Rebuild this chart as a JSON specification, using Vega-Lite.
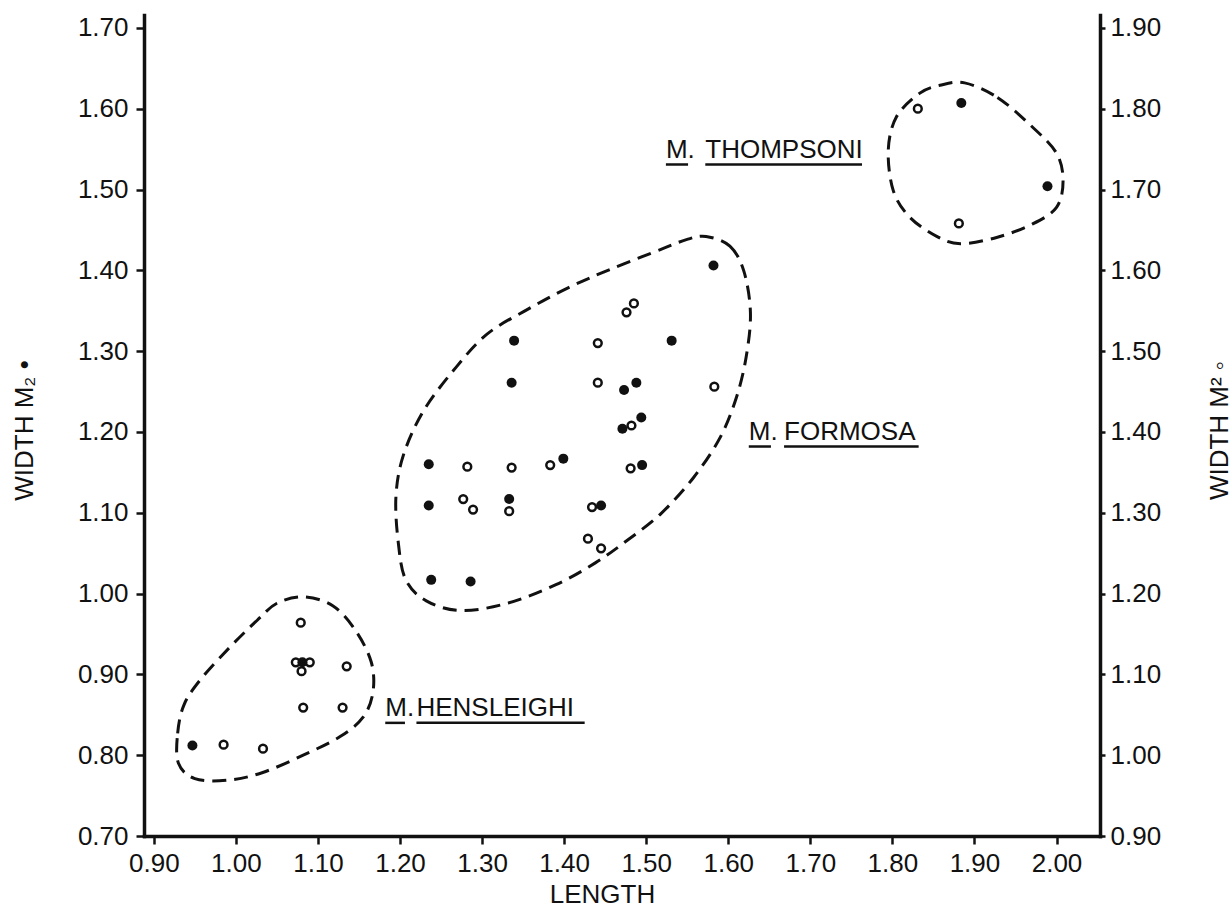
{
  "$schema": "https://vega.github.io/schema/vega-lite/v6.json",
  "width": 956,
  "height": 821,
  "autosize": "none",
  "padding": {"left": 144, "top": 15, "right": 132, "bottom": 74},
  "background": "white",
  "datasets": {
    "lower": [
      {"sp": "M. hensleighi", "len": 0.947, "wid": 0.812},
      {"sp": "M. hensleighi", "len": 1.081, "wid": 0.915},
      {"sp": "M. formosa", "len": 1.582, "wid": 1.406},
      {"sp": "M. formosa", "len": 1.339, "wid": 1.313},
      {"sp": "M. formosa", "len": 1.531, "wid": 1.313},
      {"sp": "M. formosa", "len": 1.336, "wid": 1.261},
      {"sp": "M. formosa", "len": 1.473, "wid": 1.252},
      {"sp": "M. formosa", "len": 1.488, "wid": 1.261},
      {"sp": "M. formosa", "len": 1.471, "wid": 1.204},
      {"sp": "M. formosa", "len": 1.494, "wid": 1.218},
      {"sp": "M. formosa", "len": 1.235, "wid": 1.160},
      {"sp": "M. formosa", "len": 1.399, "wid": 1.167},
      {"sp": "M. formosa", "len": 1.495, "wid": 1.159},
      {"sp": "M. formosa", "len": 1.235, "wid": 1.109},
      {"sp": "M. formosa", "len": 1.333, "wid": 1.117},
      {"sp": "M. formosa", "len": 1.445, "wid": 1.109},
      {"sp": "M. formosa", "len": 1.238, "wid": 1.017},
      {"sp": "M. formosa", "len": 1.286, "wid": 1.015},
      {"sp": "M. thompsoni", "len": 1.884, "wid": 1.607},
      {"sp": "M. thompsoni", "len": 1.989, "wid": 1.504}
    ],
    "upper": [
      {"sp": "M. hensleighi", "len": 0.985, "wid": 1.013},
      {"sp": "M. hensleighi", "len": 1.033, "wid": 1.008},
      {"sp": "M. hensleighi", "len": 1.079, "wid": 1.164},
      {"sp": "M. hensleighi", "len": 1.073, "wid": 1.115},
      {"sp": "M. hensleighi", "len": 1.090, "wid": 1.115},
      {"sp": "M. hensleighi", "len": 1.080, "wid": 1.104},
      {"sp": "M. hensleighi", "len": 1.135, "wid": 1.110},
      {"sp": "M. hensleighi", "len": 1.082, "wid": 1.059},
      {"sp": "M. hensleighi", "len": 1.130, "wid": 1.059},
      {"sp": "M. formosa", "len": 1.485, "wid": 1.559},
      {"sp": "M. formosa", "len": 1.476, "wid": 1.548},
      {"sp": "M. formosa", "len": 1.441, "wid": 1.510},
      {"sp": "M. formosa", "len": 1.441, "wid": 1.461},
      {"sp": "M. formosa", "len": 1.583, "wid": 1.456},
      {"sp": "M. formosa", "len": 1.482, "wid": 1.408},
      {"sp": "M. formosa", "len": 1.282, "wid": 1.357},
      {"sp": "M. formosa", "len": 1.336, "wid": 1.356},
      {"sp": "M. formosa", "len": 1.383, "wid": 1.359},
      {"sp": "M. formosa", "len": 1.481, "wid": 1.355},
      {"sp": "M. formosa", "len": 1.277, "wid": 1.317},
      {"sp": "M. formosa", "len": 1.289, "wid": 1.304},
      {"sp": "M. formosa", "len": 1.333, "wid": 1.302},
      {"sp": "M. formosa", "len": 1.434, "wid": 1.307},
      {"sp": "M. formosa", "len": 1.429, "wid": 1.268},
      {"sp": "M. formosa", "len": 1.445, "wid": 1.256},
      {"sp": "M. thompsoni", "len": 1.831, "wid": 1.800},
      {"sp": "M. thompsoni", "len": 1.881, "wid": 1.658}
    ],
    "outline": [
      {"sp": "H", "o": 1, "len": 0.930, "wid": 0.790},
      {"sp": "H", "o": 2, "len": 0.929, "wid": 0.827},
      {"sp": "H", "o": 3, "len": 0.937, "wid": 0.863},
      {"sp": "H", "o": 4, "len": 0.958, "wid": 0.895},
      {"sp": "H", "o": 5, "len": 0.992, "wid": 0.933},
      {"sp": "H", "o": 6, "len": 1.026, "wid": 0.967},
      {"sp": "H", "o": 7, "len": 1.050, "wid": 0.988},
      {"sp": "H", "o": 8, "len": 1.082, "wid": 0.996},
      {"sp": "H", "o": 9, "len": 1.118, "wid": 0.985},
      {"sp": "H", "o": 10, "len": 1.146, "wid": 0.954},
      {"sp": "H", "o": 11, "len": 1.165, "wid": 0.915},
      {"sp": "H", "o": 12, "len": 1.167, "wid": 0.878},
      {"sp": "H", "o": 13, "len": 1.155, "wid": 0.847},
      {"sp": "H", "o": 14, "len": 1.127, "wid": 0.823},
      {"sp": "H", "o": 15, "len": 1.082, "wid": 0.800},
      {"sp": "H", "o": 16, "len": 1.031, "wid": 0.778},
      {"sp": "H", "o": 17, "len": 0.989, "wid": 0.769},
      {"sp": "H", "o": 18, "len": 0.950, "wid": 0.771},
      {"sp": "F", "o": 1, "len": 1.573, "wid": 1.442},
      {"sp": "F", "o": 2, "len": 1.602, "wid": 1.430},
      {"sp": "F", "o": 3, "len": 1.619, "wid": 1.399},
      {"sp": "F", "o": 4, "len": 1.627, "wid": 1.348},
      {"sp": "F", "o": 5, "len": 1.622, "wid": 1.294},
      {"sp": "F", "o": 6, "len": 1.610, "wid": 1.243},
      {"sp": "F", "o": 7, "len": 1.590, "wid": 1.193},
      {"sp": "F", "o": 8, "len": 1.558, "wid": 1.144},
      {"sp": "F", "o": 9, "len": 1.518, "wid": 1.099},
      {"sp": "F", "o": 10, "len": 1.477, "wid": 1.066},
      {"sp": "F", "o": 11, "len": 1.438, "wid": 1.038},
      {"sp": "F", "o": 12, "len": 1.390, "wid": 1.011},
      {"sp": "F", "o": 13, "len": 1.331, "wid": 0.988},
      {"sp": "F", "o": 14, "len": 1.274, "wid": 0.979},
      {"sp": "F", "o": 15, "len": 1.232, "wid": 0.991},
      {"sp": "F", "o": 16, "len": 1.207, "wid": 1.017},
      {"sp": "F", "o": 17, "len": 1.198, "wid": 1.062},
      {"sp": "F", "o": 18, "len": 1.195, "wid": 1.120},
      {"sp": "F", "o": 19, "len": 1.204, "wid": 1.171},
      {"sp": "F", "o": 20, "len": 1.228, "wid": 1.225},
      {"sp": "F", "o": 21, "len": 1.265, "wid": 1.276},
      {"sp": "F", "o": 22, "len": 1.306, "wid": 1.321},
      {"sp": "F", "o": 23, "len": 1.356, "wid": 1.352},
      {"sp": "F", "o": 24, "len": 1.406, "wid": 1.379},
      {"sp": "F", "o": 25, "len": 1.458, "wid": 1.402},
      {"sp": "F", "o": 26, "len": 1.518, "wid": 1.426},
      {"sp": "F", "o": 27, "len": 1.549, "wid": 1.438},
      {"sp": "T", "o": 1, "len": 1.888, "wid": 1.632},
      {"sp": "T", "o": 2, "len": 1.928, "wid": 1.614},
      {"sp": "T", "o": 3, "len": 1.970, "wid": 1.578},
      {"sp": "T", "o": 4, "len": 2.000, "wid": 1.545},
      {"sp": "T", "o": 5, "len": 2.008, "wid": 1.511},
      {"sp": "T", "o": 6, "len": 2.000, "wid": 1.478},
      {"sp": "T", "o": 7, "len": 1.970, "wid": 1.457},
      {"sp": "T", "o": 8, "len": 1.928, "wid": 1.441},
      {"sp": "T", "o": 9, "len": 1.883, "wid": 1.433},
      {"sp": "T", "o": 10, "len": 1.854, "wid": 1.442},
      {"sp": "T", "o": 11, "len": 1.821, "wid": 1.466},
      {"sp": "T", "o": 12, "len": 1.801, "wid": 1.499},
      {"sp": "T", "o": 13, "len": 1.795, "wid": 1.549},
      {"sp": "T", "o": 14, "len": 1.805, "wid": 1.590},
      {"sp": "T", "o": 15, "len": 1.833, "wid": 1.619},
      {"sp": "T", "o": 16, "len": 1.858, "wid": 1.629}
    ],
    "labels": [
      {"t": "M.", "len": 1.524, "wid": 1.549},
      {"t": "THOMPSONI", "len": 1.572, "wid": 1.549},
      {"t": "M.", "len": 1.625, "wid": 1.200},
      {"t": "FORMOSA", "len": 1.668, "wid": 1.200},
      {"t": "M.", "len": 1.182, "wid": 0.859},
      {"t": "HENSLEIGHI", "len": 1.220, "wid": 0.859}
    ],
    "underlines": [
      {"len": 1.524, "len2": 1.551, "wid": 1.531},
      {"len": 1.572, "len2": 1.763, "wid": 1.531},
      {"len": 1.625, "len2": 1.652, "wid": 1.182},
      {"len": 1.668, "len2": 1.832, "wid": 1.182},
      {"len": 1.182, "len2": 1.206, "wid": 0.840},
      {"len": 1.220, "len2": 1.425, "wid": 0.840}
    ]
  },
  "layer": [
    {
      "data": {"name": "outline"},
      "mark": {"type": "line", "interpolate": "cardinal-closed", "color": "#111", "strokeWidth": 3, "strokeDash": [14, 8], "clip": false},
      "encoding": {
        "x": {"field": "len", "type": "quantitative", "scale": {"domain": [0.888, 2.053], "nice": false, "zero": false},
          "axis": {"title": "LENGTH", "values": [0.9, 1.0, 1.1, 1.2, 1.3, 1.4, 1.5, 1.6, 1.7, 1.8, 1.9, 2.0], "format": ".2f", "titleX": 458, "titleY": 66, "titleBaseline": "alphabetic", "titleAlign": "center"}},
        "y": {"field": "wid", "type": "quantitative", "scale": {"domain": [0.70, 1.716], "nice": false, "zero": false}, "axis": null},
        "detail": {"field": "sp"},
        "order": {"field": "o", "type": "quantitative"}
      }
    },
    {
      "data": {"name": "lower"},
      "mark": {"type": "point", "shape": "circle", "filled": true, "color": "#111", "size": 100, "opacity": 1},
      "encoding": {
        "x": {"field": "len", "type": "quantitative", "scale": {"domain": [0.888, 2.053], "nice": false, "zero": false},
          "axis": {"title": "LENGTH", "values": [0.9, 1.0, 1.1, 1.2, 1.3, 1.4, 1.5, 1.6, 1.7, 1.8, 1.9, 2.0], "format": ".2f", "titleX": 458, "titleY": 66, "titleBaseline": "alphabetic", "titleAlign": "center"}},
        "y": {"field": "wid", "type": "quantitative", "scale": {"domain": [0.70, 1.716], "nice": false, "zero": false},
          "axis": {"orient": "left", "title": "WIDTH M₂ •", "values": [0.7, 0.8, 0.9, 1.0, 1.1, 1.2, 1.3, 1.4, 1.5, 1.6, 1.7], "format": ".2f", "titleX": -112, "titleY": 415, "titleBaseline": "alphabetic", "titleAlign": "center", "titleAngle": 270}}
      }
    },
    {
      "data": {"name": "labels"},
      "mark": {"type": "text", "align": "left", "baseline": "middle", "font": "Liberation Sans", "fontSize": 26, "color": "#111"},
      "encoding": {
        "x": {"field": "len", "type": "quantitative", "scale": {"domain": [0.888, 2.053], "nice": false, "zero": false},
          "axis": {"title": "LENGTH", "values": [0.9, 1.0, 1.1, 1.2, 1.3, 1.4, 1.5, 1.6, 1.7, 1.8, 1.9, 2.0], "format": ".2f", "titleX": 458, "titleY": 66, "titleBaseline": "alphabetic", "titleAlign": "center"}},
        "y": {"field": "wid", "type": "quantitative", "scale": {"domain": [0.70, 1.716], "nice": false, "zero": false}, "axis": null},
        "text": {"field": "t"}
      }
    },
    {
      "data": {"name": "underlines"},
      "mark": {"type": "rule", "color": "#111", "strokeWidth": 2.5},
      "encoding": {
        "x": {"field": "len", "type": "quantitative", "scale": {"domain": [0.888, 2.053], "nice": false, "zero": false},
          "axis": {"title": "LENGTH", "values": [0.9, 1.0, 1.1, 1.2, 1.3, 1.4, 1.5, 1.6, 1.7, 1.8, 1.9, 2.0], "format": ".2f", "titleX": 458, "titleY": 66, "titleBaseline": "alphabetic", "titleAlign": "center"}},
        "x2": {"field": "len2"},
        "y": {"field": "wid", "type": "quantitative", "scale": {"domain": [0.70, 1.716], "nice": false, "zero": false}, "axis": null}
      }
    },
    {
      "data": {"name": "upper"},
      "mark": {"type": "point", "shape": "circle", "filled": false, "color": "#111", "size": 60, "strokeWidth": 2.5, "opacity": 1},
      "encoding": {
        "x": {"field": "len", "type": "quantitative", "scale": {"domain": [0.888, 2.053], "nice": false, "zero": false},
          "axis": {"title": "LENGTH", "values": [0.9, 1.0, 1.1, 1.2, 1.3, 1.4, 1.5, 1.6, 1.7, 1.8, 1.9, 2.0], "format": ".2f", "titleX": 458, "titleY": 66, "titleBaseline": "alphabetic", "titleAlign": "center"}},
        "y": {"field": "wid", "type": "quantitative", "scale": {"domain": [0.90, 1.916], "nice": false, "zero": false},
          "axis": {"orient": "right", "title": "WIDTH M² ◦", "values": [0.9, 1.0, 1.1, 1.2, 1.3, 1.4, 1.5, 1.6, 1.7, 1.8, 1.9], "format": ".2f", "titleX": 127, "titleY": 415, "titleBaseline": "alphabetic", "titleAlign": "center", "titleAngle": 270}}
      }
    }
  ],
  "resolve": {"scale": {"y": "independent"}, "axis": {"y": "independent"}},
  "config": {
    "view": {"stroke": null},
    "font": "Liberation Sans",
    "axis": {"grid": false, "domainColor": "#111", "domainWidth": 3.5, "domainCap": "square", "tickColor": "#111", "tickWidth": 2.5, "labelFont": "Liberation Sans", "labelFontSize": 26, "labelColor": "#111", "titleFont": "Liberation Sans", "titleFontSize": 26, "titleFontWeight": "normal", "titleColor": "#111", "labelFlush": false, "labelOverlap": false},
    "axisLeft": {"tickSize": 8, "labelPadding": 8},
    "axisRight": {"tickSize": 5, "labelPadding": 5},
    "axisBottom": {"tickSize": 8, "labelPadding": 6}
  }
}
